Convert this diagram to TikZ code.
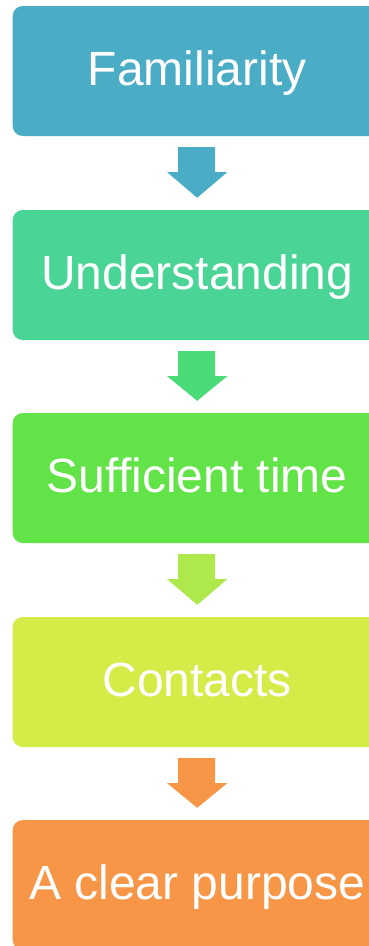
\documentclass[tikz,border=0pt]{standalone}
\usepackage{fontspec}
\setmainfont{Liberation Sans}
\usetikzlibrary{calc}
\definecolor{cA}{HTML}{4BACC6}
\definecolor{cB}{HTML}{4AD496}
\definecolor{cBarrow}{HTML}{4ADA78}
\definecolor{cC}{HTML}{62E348}
\definecolor{cCarrow}{HTML}{AEE84B}
\definecolor{cD}{HTML}{D5EB48}
\definecolor{cE}{HTML}{F79646}
\tikzset{
  stagebox/.style={rectangle, rounded corners=10pt, minimum width=369pt, minimum height=130pt,
    inner sep=0pt, text=white, font=\fontsize{48}{53}\selectfont, text height=34pt, text depth=6pt, fill=#1},
}
\newcommand{\downarrowshape}[3]{% color, from node, to node
  \fill[#1] ($(#2.south)+(-19pt,-11pt)$) -- ($(#2.south)+(18pt,-11pt)$) -- ($(#2.south)+(18pt,-36pt)$)
    -- ($(#2.south)+(30pt,-36pt)$) -- ($(#3.north)+(0pt,12pt)$) -- ($(#2.south)+(-30pt,-36pt)$)
    -- ($(#2.south)+(-19pt,-36pt)$) -- cycle;}
\begin{document}
\begin{tikzpicture}[x=1pt,y=1pt]
\useasboundingbox (0,0) rectangle (369,-946);
\node[stagebox=cA] (a) at (197.2,-71) {Familiarity};
\node[stagebox=cB] (b) at (197.2,-275) {Understanding};
\node[stagebox=cC] (c) at (197.2,-478) {Sufficient time};
\node[stagebox=cD] (d) at (197.2,-682) {Contacts};
\node[stagebox=cE] (e) at (197.2,-885) {A clear purpose};
\downarrowshape{cA}{a}{b}
\downarrowshape{cBarrow}{b}{c}
\downarrowshape{cCarrow}{c}{d}
\downarrowshape{cE}{d}{e}
\end{tikzpicture}
\end{document}
